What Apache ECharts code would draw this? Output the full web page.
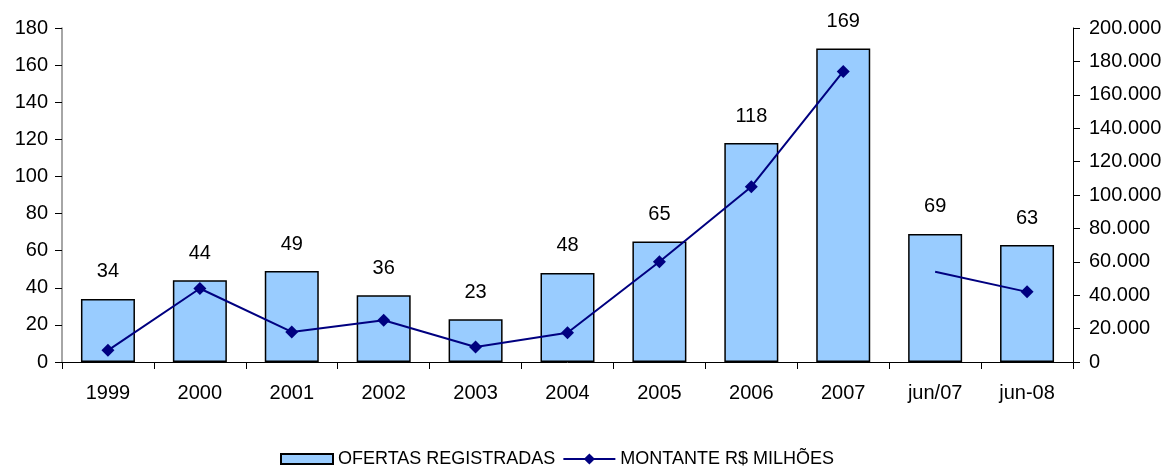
<!DOCTYPE html>
<html>
<head>
<meta charset="utf-8">
<script src="https://cdn.jsdelivr.net/npm/echarts@6/dist/echarts.min.js"></script>
<style>
html,body{margin:0;padding:0;background:#fff;}
#chart{width:1173px;height:466px;}
</style>
</head>
<body>
<div id="chart"></div>
<script>
var categories = ['1999','2000','2001','2002','2003','2004','2005','2006','2007','jun/07','jun-08'];
var ofertas = [34, 44, 49, 36, 23, 48, 65, 118, 169, 69, 63];
var montanteAnual = [7000, 44000, 18000, 25000, 9000, 17500, 60000, 105000, 174000, '-', '-'];
var montanteJun = ['-', '-', '-', '-', '-', '-', '-', '-', '-', 54000, 42000];
var leftTicks = [0, 180, 20];
var rightTicks = [0, 200000, 20000];

var lineName = 'MONTANTE R$ MILHÕES';
var barName = 'OFERTAS REGISTRADAS';
var font = 'Liberation Sans, Arial, sans-serif';

var chart = echarts.init(document.getElementById('chart'));
chart.setOption({
  animation: false,
  backgroundColor: '#fff',
  grid: { left: 62, right: 100, top: 28, bottom: 104, containLabel: false },
  legend: {
    top: 450,
    left: 280,
    padding: 0,
    itemWidth: 52,
    itemHeight: 14,
    itemGap: 7,
    data: [
      { name: barName, icon: 'path://M0,0 H52 V10 H0 Z' },
      { name: lineName }
    ],
    textStyle: { fontFamily: font, fontSize: 18, color: '#000', padding: [0, 0, 0, 0] }
  },
  xAxis: {
    type: 'category',
    data: categories,
    axisLine: { lineStyle: { color: '#000', width: 1 } },
    axisTick: { show: true, alignWithLabel: false, length: 7, lineStyle: { color: '#000' } },
    axisLabel: { fontFamily: font, fontSize: 20, color: '#000', margin: 21 }
  },
  yAxis: [
    {
      type: 'value',
      min: leftTicks[0], max: leftTicks[1], interval: leftTicks[2],
      splitLine: { show: false },
      axisLine: { show: true, lineStyle: { color: '#888', width: 1.5 } },
      axisTick: { show: true, length: 7, lineStyle: { color: '#000' } },
      axisLabel: { fontFamily: font, fontSize: 20, color: '#000', margin: 14 }
    },
    {
      type: 'value',
      min: rightTicks[0], max: rightTicks[1], interval: rightTicks[2],
      splitLine: { show: false },
      axisLine: { show: true, lineStyle: { color: '#000', width: 1 } },
      axisTick: { show: true, length: 7, lineStyle: { color: '#000' } },
      axisLabel: {
        fontFamily: font, fontSize: 20, color: '#000', margin: 16,
        formatter: function (v) {
          return v === 0 ? '0' : String(v).replace(/\B(?=(\d{3})+(?!\d))/g, '.');
        }
      }
    }
  ],
  series: [
    {
      name: barName,
      type: 'bar',
      yAxisIndex: 0,
      data: ofertas,
      barWidth: 54,
      itemStyle: { color: '#99CCFF', borderColor: '#000', borderWidth: 1.5 },
      label: {
        show: true, position: 'top', distance: 17,
        fontFamily: font, fontSize: 20, color: '#000'
      },
      z: 1
    },
    {
      name: lineName,
      type: 'line',
      yAxisIndex: 1,
      data: montanteAnual,
      symbol: 'diamond',
      symbolSize: 13,
      color: '#000080',
      lineStyle: { color: '#000080', width: 2 },
      itemStyle: { color: '#000080' },
      z: 3
    },
    {
      name: lineName,
      type: 'line',
      yAxisIndex: 1,
      data: montanteJun.map(function (v, i) {
        return i === 9 ? { value: v, symbol: 'none' } : v;
      }),
      symbol: 'diamond',
      symbolSize: 13,
      color: '#000080',
      lineStyle: { color: '#000080', width: 2 },
      itemStyle: { color: '#000080' },
      z: 3
    }
  ]
});
</script>
</body>
</html>
